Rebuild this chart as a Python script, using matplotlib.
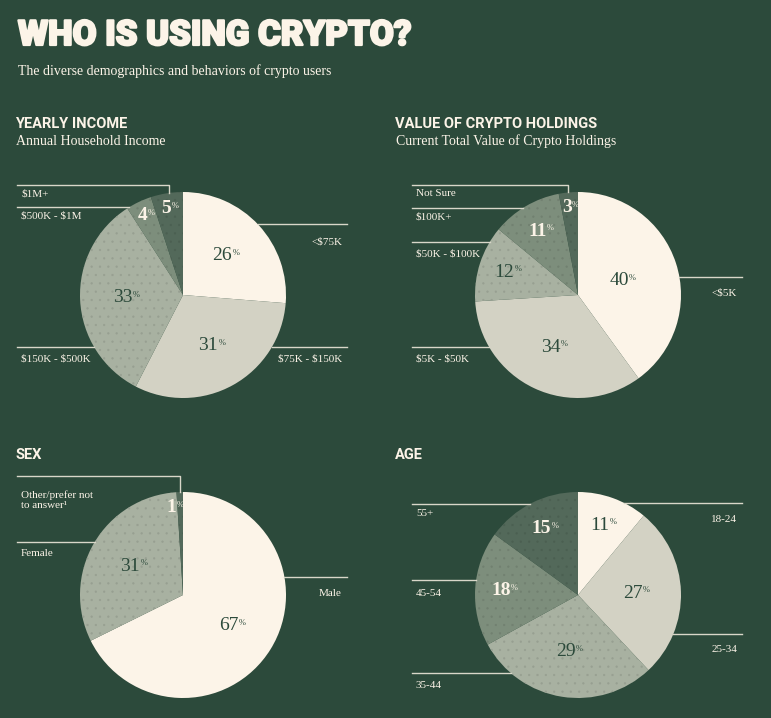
import numpy as np
import matplotlib.pyplot as plt
import matplotlib.colors as mc
import matplotlib.patheffects as pe

plt.rcParams['text.parse_math'] = False
plt.rcParams['hatch.linewidth'] = 0.4

W, H = 771, 718

BG = '#2c4a3b'
CREAM = '#fcf4e8'
LIGHT = '#d3d2c4'
MID = '#a8b1a1'
DARKER = '#7d8e7c'
DARKEST = '#53695a'
LINE = '#d9d7c9'

income_labels = ['<$75K', '$75K - $150K', '$150K - $500K', '$500K - $1M', '$1M+']
income_values = [26, 31, 33, 4, 5]
holdings_labels = ['<$5K', '$5K - $50K', '$50K - $100K', '$100K+', 'Not Sure']
holdings_values = [40, 34, 12, 11, 3]
sex_labels = ['Male', 'Female', 'Other/prefer not\nto answer\u00b9']
sex_values = [67, 31, 1]
age_labels = ['18-24', '25-34', '35-44', '45-54', '55+']
age_values = [11, 27, 29, 18, 15]

five_cols = [CREAM, LIGHT, MID, DARKER, DARKEST]
sex_cols = [CREAM, MID, DARKEST]

# callouts: side, line y, text y, elbow x (pixels)
income_call = [('R', 224, 242, None), ('R', 347, 359, None), ('L', 347, 359, None),
               ('L', 207, 216, None), ('L', 185, 194, 169)]
holdings_call = [('R', 277, 293, None), ('L', 347, 359, None), ('L', 242, 254, None),
                 ('L', 208, 217, None), ('L', 185, 194, 568)]
sex_call = [('R', 577, 593, None), ('L', 542, 554, None), ('L', 476, 500, 180)]
age_call = [('R', 503, 519, None), ('R', 634, 650, None), ('L', 673, 685, None),
            ('L', 580, 593, None), ('L', 504, 513, None)]

R = 103
SERIF = 'Liberation Serif'

fig = plt.figure(figsize=(W / 100, H / 100), dpi=100, facecolor=BG)
ax = fig.add_axes([0, 0, 1, 1])
ax.set_facecolor(BG)


def darken(c, k=0.9):
    r, g, b = mc.to_rgb(c)
    return (r * k, g * k, b * k)


def pct_label(x, y, v, color, bold):
    t = ax.text(x, y, str(v), ha='center', va='center', fontsize=14, color=color,
                family=SERIF, fontweight='bold' if bold else 'normal')
    ax.annotate('%', xy=(1.0, 0.9), xycoords=t, xytext=(0.3, 0), textcoords='offset points',
                ha='left', va='top', fontsize=6, color=color, family=SERIF)


def draw_pie(cx, cy, values, labels, colors, calls):
    wedges, _ = ax.pie(values, colors=colors, center=(cx, cy), radius=R, startangle=-90,
                       counterclock=True, wedgeprops=dict(linewidth=0))
    for i, w in enumerate(wedges):
        if colors[i] in (MID, DARKER, DARKEST):
            w.set_hatch('..')
            w.set_edgecolor(darken(colors[i]))
            w.set_linewidth(0)
        mid = np.deg2rad((w.theta1 + w.theta2) / 2)
        v = values[i]
        if v <= 5:
            frac = 0.85
        elif v <= 18:
            frac = 0.72
        elif 35 <= v < 50:
            frac = 0.45
        else:
            frac = 0.56
        shift = -9 if v <= 2 else -3
        x = cx + frac * R * np.cos(mid) + shift
        y = cy + frac * R * np.sin(mid)
        light_txt = colors[i] in (DARKER, DARKEST)
        pct_label(x, y, v, CREAM if light_txt else BG, light_txt)

    left_x, right_x = cx - 166, cx + 164
    for lab, (side, ly, ty, elbow) in zip(labels, calls):
        if elbow is not None:
            ey = cy - np.sqrt(R ** 2 - (elbow - cx) ** 2)
            ax.plot([left_x, elbow, elbow], [ly, ly, ey], color=LINE, lw=1)
        else:
            dx = np.sqrt(R ** 2 - (ly - cy) ** 2)
            if side == 'L':
                ax.plot([left_x, cx - dx], [ly, ly], color=LINE, lw=1)
            else:
                ax.plot([cx + dx, right_x], [ly, ly], color=LINE, lw=1)
        if side == 'L':
            ax.text(left_x + 4, ty, lab, ha='left', va='center', fontsize=8,
                    color=CREAM, family=SERIF, linespacing=1.1)
        else:
            ax.text(right_x - 5, ty, lab, ha='right', va='center', fontsize=8,
                    color=CREAM, family=SERIF)


draw_pie(183, 295, income_values, income_labels, five_cols, income_call)
draw_pie(578, 295, holdings_values, holdings_labels, five_cols, holdings_call)
draw_pie(183, 595, sex_values, sex_labels, sex_cols, sex_call)
draw_pie(578, 595, age_values, age_labels, five_cols, age_call)

# titles
ax.text(18, 45, 'WHO IS USING CRYPTO?', fontsize=25, fontweight='black', family='Roboto',
        color=CREAM, va='baseline',
        path_effects=[pe.withStroke(linewidth=1.6, foreground=CREAM)])
ax.text(18, 75, 'The diverse demographics and behaviors of crypto users', fontsize=10,
        family=SERIF, color=CREAM, va='baseline')

heads = [(15, 128, 'YEARLY INCOME', 'Annual Household Income'),
         (395, 128, 'VALUE OF CRYPTO HOLDINGS', 'Current Total Value of Crypto Holdings'),
         (15, 459, 'SEX', None), (395, 459, 'AGE', None)]
for x, y, h, s in heads:
    ax.text(x, y, h, fontsize=10.5, fontweight='bold', family='Roboto', color=CREAM,
            va='baseline')
    if s:
        ax.text(x + 1, y + 17, s, fontsize=10, family=SERIF, color=CREAM, va='baseline')

ax.set_xlim(0, W)
ax.set_ylim(H, 0)
ax.set_aspect('equal')
ax.axis('off')

fig.savefig('out.png', dpi=100, facecolor=BG)
